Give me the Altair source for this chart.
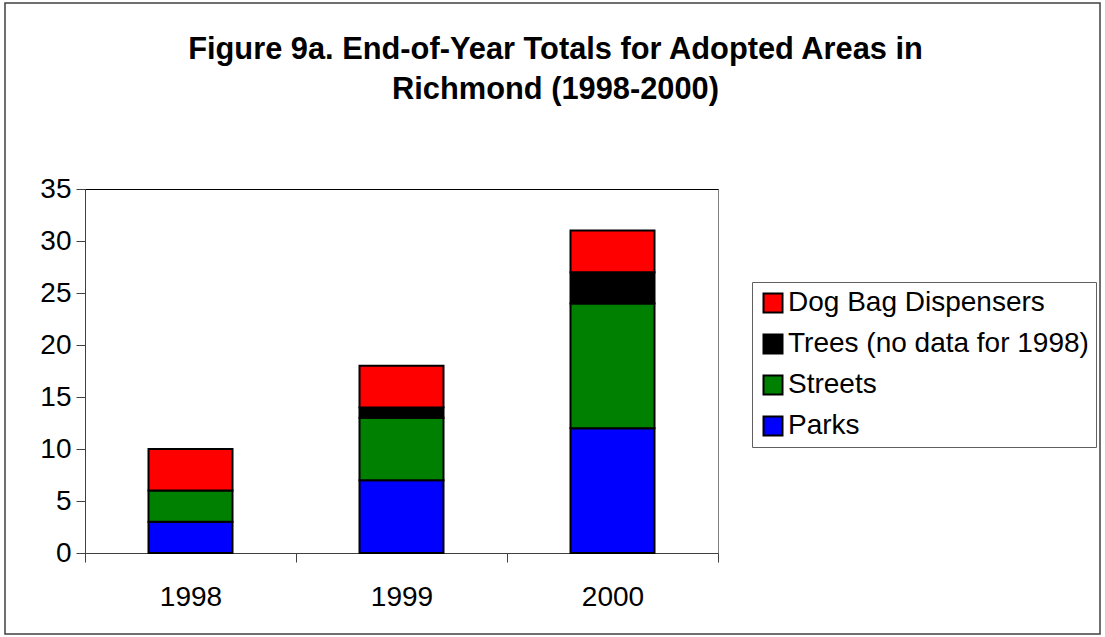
import altair as alt
import pandas as pd

# Adopted areas at the end of each year
years = ["1998", "1999", "2000"]
parks = [3, 7, 12]
streets = [3, 6, 12]
trees = [None, 1, 3]          # no tree data for 1998
dog_bags = [4, 4, 4]

# stacking order, bottom to top
series_names = ["Parks", "Streets", "Trees (no data for 1998)", "Dog Bag Dispensers"]
series_values = [parks, streets, trees, dog_bags]
series_colors = ["#0000FF", "#008000", "#000000", "#FF0000"]

y_ticks = [0, 5, 10, 15, 20, 25, 30, 35]

rows = []
for idx, (name, vals) in enumerate(zip(series_names, series_values)):
    for year, v in zip(years, vals):
        if v is not None:
            rows.append({"year": year, "series": name, "count": v, "stack_idx": idx})
df = pd.DataFrame(rows)

FONT = "Liberation Sans"
W, H = 633, 364

bars = alt.Chart(df).mark_bar(size=84, stroke="black", strokeWidth=2).encode(
    x=alt.X(
        "year:N",
        sort=years,
        title=None,
        scale=alt.Scale(paddingInner=0, paddingOuter=0),
        axis=alt.Axis(
            labelAngle=0,
            tickBand="extent",
            tickSize=9,
            labelPadding=21,
            labelFontSize=28,
            labelColor="black",
            domainColor="#404040",
            tickColor="#404040",
            grid=False,
        ),
    ),
    y=alt.Y(
        "count:Q",
        stack="zero",
        title=None,
        scale=alt.Scale(domain=[0, 35], nice=False),
        axis=alt.Axis(
            values=y_ticks,
            tickSize=9,
            labelPadding=5,
            labelFontSize=28,
            labelColor="black",
            domainColor="#404040",
            tickColor="#404040",
            grid=True,
            gridColor=alt.condition("datum.value === 35", alt.value("black"), alt.value("transparent")),
            gridWidth=1,
        ),
    ),
    color=alt.Color(
        "series:N",
        scale=alt.Scale(domain=series_names[::-1], range=series_colors[::-1]),
        legend=alt.Legend(
            title=None,
            orient="none",
            legendX=667,
            legendY=93,
            padding=7,
            strokeColor="#606060",
            fillColor="white",
            symbolType="square",
            symbolSize=361,
            symbolStrokeColor="black",
            symbolStrokeWidth=2,
            symbolOpacity=1,
            labelFontSize=28,
            labelColor="black",
            labelOffset=1,
            rowPadding=13,
            labelLimit=400,
        ),
    ),
    order=alt.Order("stack_idx:Q", sort="ascending"),
)

# thin frame around the whole figure
frame = alt.Chart(alt.Data(values=[{}])).mark_rect(
    fill="transparent", stroke="#404040", strokeWidth=1.5
).encode(
    x=alt.value(-80), x2=alt.value(1015), y=alt.value(-186), y2=alt.value(445)
)

chart = (
    alt.layer(frame, bars)
    .properties(
        width=W,
        height=H,
        autosize=alt.AutoSizeParams(type="none"),
        padding={"left": 85, "top": 189, "right": 387, "bottom": 84},
        title=alt.TitleParams(
            text=["Figure 9a. End-of-Year Totals for Adopted Areas in", "Richmond (1998-2000)"],
            font=FONT,
            fontSize=30.8,
            fontWeight="bold",
            color="black",
            anchor="middle",
            baseline="top",
            lineHeight=40,
            dx=154,
            offset=-104,
        ),
        background="white",
    )
    .configure(font=FONT)
    .configure_view(stroke="#808080", strokeWidth=1)
    .configure_axis(labelFont=FONT)
    .configure_legend(labelFont=FONT)
)

chart.save("out.html", embed_options={"renderer": "svg", "actions": False})
